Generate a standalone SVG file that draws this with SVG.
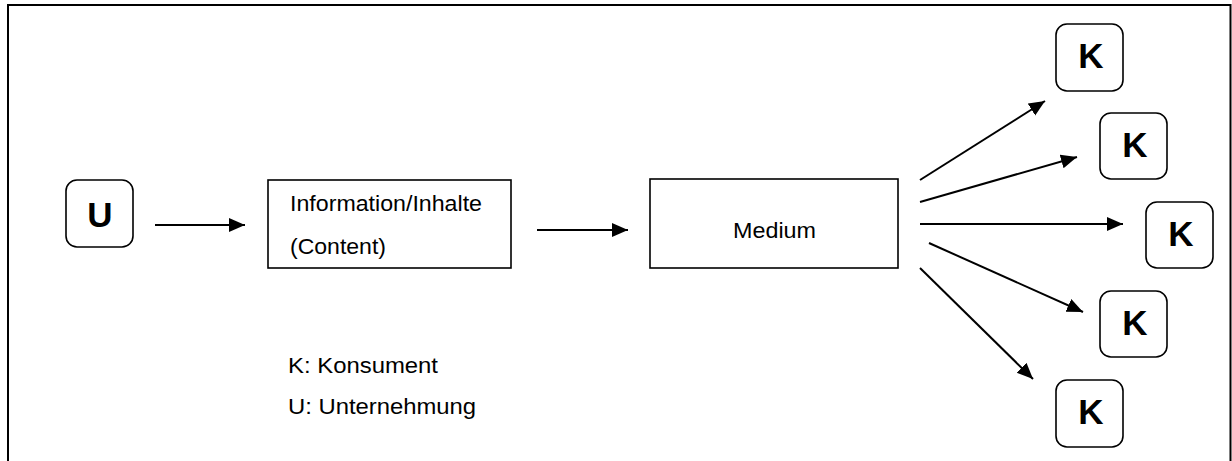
<svg xmlns="http://www.w3.org/2000/svg" width="1232" height="461" viewBox="0 0 1232 461">
<style>
.frame{fill:none;stroke:#000;stroke-width:2}
.rbox{fill:#fff;stroke:#000;stroke-width:1.6}
.box{fill:#fff;stroke:#000;stroke-width:1.6}
.big{font-family:"Liberation Sans",Arial,sans-serif;font-weight:bold;font-size:35px;fill:#000;text-anchor:middle}
.txt{font-family:"Liberation Sans",Arial,sans-serif;font-size:22px;fill:#000}
.conn line{stroke:#000;stroke-width:2}
</style>
<defs>
<marker id="ah" markerUnits="userSpaceOnUse" markerWidth="17" markerHeight="15" refX="16" refY="7" orient="auto">
<path d="M0,0 L16,7 L0,14 Z" fill="#000"/>
</marker>
</defs>
<rect width="1232" height="461" fill="#fff"/>
<path class="frame" d="M8,461 V5 H1230.5 V461"/>

<g id="node-U">
<rect class="rbox" x="66" y="180" width="67" height="67" rx="11"/>
<text class="big" x="100" y="227">U</text>
</g>
<g id="node-content">
<rect class="box" x="268" y="180" width="243" height="88"/>
<text class="txt" x="290" y="211" textLength="192" lengthAdjust="spacingAndGlyphs">Information/Inhalte</text>
<text class="txt" x="290" y="254" textLength="96" lengthAdjust="spacingAndGlyphs">(Content)</text>
</g>
<g id="node-medium">
<rect class="box" x="650" y="179" width="248" height="89"/>
<text class="txt" x="733" y="238" textLength="83" lengthAdjust="spacingAndGlyphs">Medium</text>
</g>
<g id="node-K1">
<rect class="rbox" x="1056" y="24" width="67" height="67" rx="11"/>
<text class="big" x="1091" y="68">K</text>
</g>
<g id="node-K2">
<rect class="rbox" x="1100" y="113" width="67" height="66" rx="11"/>
<text class="big" x="1135" y="157">K</text>
</g>
<g id="node-K3">
<rect class="rbox" x="1146" y="202" width="67" height="66" rx="11"/>
<text class="big" x="1181" y="246">K</text>
</g>
<g id="node-K4">
<rect class="rbox" x="1100" y="291" width="67" height="66" rx="11"/>
<text class="big" x="1135" y="335">K</text>
</g>
<g id="node-K5">
<rect class="rbox" x="1056" y="380" width="67" height="67" rx="11"/>
<text class="big" x="1091" y="424">K</text>
</g>
<g id="legend">
<text class="txt" x="288" y="373" textLength="150" lengthAdjust="spacingAndGlyphs">K: Konsument</text>
<text class="txt" x="288" y="414" textLength="188" lengthAdjust="spacingAndGlyphs">U: Unternehmung</text>
</g>
<g id="connectors" class="conn">
<line x1="155" y1="225" x2="245" y2="225" marker-end="url(#ah)"/>
<line x1="537" y1="230" x2="628" y2="230" marker-end="url(#ah)"/>
<line x1="920" y1="180" x2="1045" y2="101" marker-end="url(#ah)"/>
<line x1="920" y1="202" x2="1077" y2="157" marker-end="url(#ah)"/>
<line x1="920" y1="224" x2="1123" y2="224" marker-end="url(#ah)"/>
<line x1="929" y1="243" x2="1083" y2="312" marker-end="url(#ah)"/>
<line x1="920" y1="268" x2="1033" y2="379" marker-end="url(#ah)"/>
</g>
</svg>
